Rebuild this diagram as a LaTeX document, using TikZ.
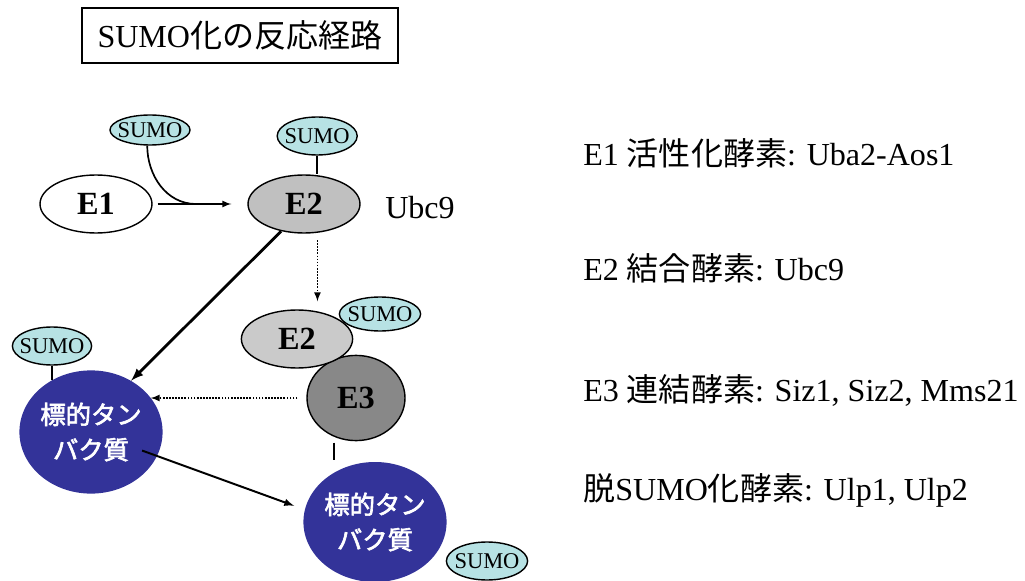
\documentclass[tikz,border=0pt]{standalone}
\usepackage{fontspec}
\setmainfont{Liberation Serif}
\newfontfamily\jp{Noto Sans CJK JP}
\newfontfamily\jpbold[FakeBold=2.5]{Noto Sans CJK JP}
\usetikzlibrary{shapes.geometric}
\definecolor{sumocyan}{RGB}{183,226,228}
\definecolor{enzgray}{RGB}{192,192,192}
\definecolor{enzlight}{RGB}{202,202,202}
\definecolor{enzdark}{RGB}{136,136,136}
\definecolor{targetblue}{RGB}{51,51,153}
\begin{document}
\begin{tikzpicture}[
    sumo/.style={ellipse, draw, line width=1pt, fill=sumocyan, inner ysep=0pt, inner xsep=-0.13cm, font=\fontsize{16}{18}\selectfont},
    enzyme/.style={ellipse, draw, line width=1pt, inner sep=0pt, font=\fontsize{23}{26}\selectfont\bfseries},
    target/.style={ellipse, fill=targetblue, inner sep=0pt, text=white, align=center, font=\fontsize{18}{25}\selectfont\jpbold},
    info/.style={anchor=west, inner sep=0pt, font=\fontsize{22.8}{27}\selectfont},
    >=latex]
    \useasboundingbox (0,0) rectangle (25.625,-14.525);
    \node[draw, line width=1.2pt, minimum width=7.9cm, minimum height=1.375cm, font=\fontsize{22.8}{27}\selectfont] (title) at (6.0,-0.89) {SUMO{\jp 化の反応経路}};
    \node[sumo, minimum width=2cm, minimum height=0.75cm] (sumoA) at (3.75,-3.25) {SUMO};
    \node[sumo, minimum width=2cm, minimum height=0.95cm] (sumoB) at (7.93,-3.4) {SUMO};
    \node[enzyme, fill=white, minimum width=2.8cm, minimum height=1.45cm] (E1) at (2.4,-5.1) {E1};
    \node[enzyme, fill=enzgray, minimum width=2.8cm, minimum height=1.45cm] (E2a) at (7.6,-5.1) {E2};
    \node[info] (ubc) at (9.625,-5.18) {Ubc9};
    \node[enzyme, fill=enzdark, minimum width=2.45cm, minimum height=2.13cm] (E3) at (8.9,-9.95) {E3};
    \node[enzyme, fill=enzlight, minimum width=2.78cm, minimum height=1.45cm] (E2b) at (7.425,-8.475) {E2};
    \node[sumo, minimum width=2.03cm, minimum height=0.85cm] (sumoC) at (9.5,-7.85) {SUMO};
    \node[target, minimum width=3.45cm, minimum height=3.08cm] (targetL) at (2.275,-10.8) {標的タン\\バク質};
    \node[sumo, minimum width=1.98cm, minimum height=0.95cm] (sumoD) at (1.3,-8.65) {SUMO};
    \node[target, minimum width=3.5cm, minimum height=3.0cm] (targetR) at (9.375,-13.05) {標的タン\\バク質};
    \node[sumo, minimum width=2.03cm, minimum height=0.95cm] (sumoE) at (12.175,-14.025) {SUMO};
    \node[info] (infoA) at (14.575,-3.825) {E1 {\jp 活性化酵素}: Uba2-Aos1};
    \node[info] (infoB) at (14.575,-6.7) {E2 {\jp 結合酵素}: Ubc9};
    \node[info] (infoC) at (14.575,-9.75) {E3 {\jp 連結酵素}: Siz1, Siz2, Mms21};
    \node[info] (infoD) at (14.575,-12.25) {{\jp 脱}SUMO{\jp 化酵素}: Ulp1, Ulp2};
    \coordinate (join) at (4.9,-5.1);
    \coordinate (bond) at (8.33,-11.5);
    \draw[->, line width=1.2pt, shorten <=0.12cm, shorten >=0.4cm] (E1.east) -- (E2a.west);
    \draw[line width=1.2pt] (sumoA.-100) to[out=-90, in=180] (join);
    \draw[line width=1.2pt] (sumoB.south) -- (sumoB.south |- E2a.north);
    \draw[->, line width=2pt] (E2a.-130) -- (targetL.52);
    \draw[->, line width=1.2pt, densely dotted, shorten <=0.18cm, shorten >=0.2cm] (E2a.-65) -- (E2a.-65 |- E2b.north);
    \draw[->, line width=1.2pt, densely dotted, shorten <=0.22cm] (E3.west) -- (E3.west -| targetL.30);
    \draw[line width=1.2pt, shorten <=0.15cm] (E3.-120) -- (E3.-120 |- bond);
    \draw[line width=1.2pt] (sumoD.south) -- (sumoD.south |- targetL.126);
    \draw[->, line width=1.4pt, shorten <=1.36cm, shorten >=0.28cm] (targetL.center) -- (targetR.170);
\end{tikzpicture}
\end{document}
